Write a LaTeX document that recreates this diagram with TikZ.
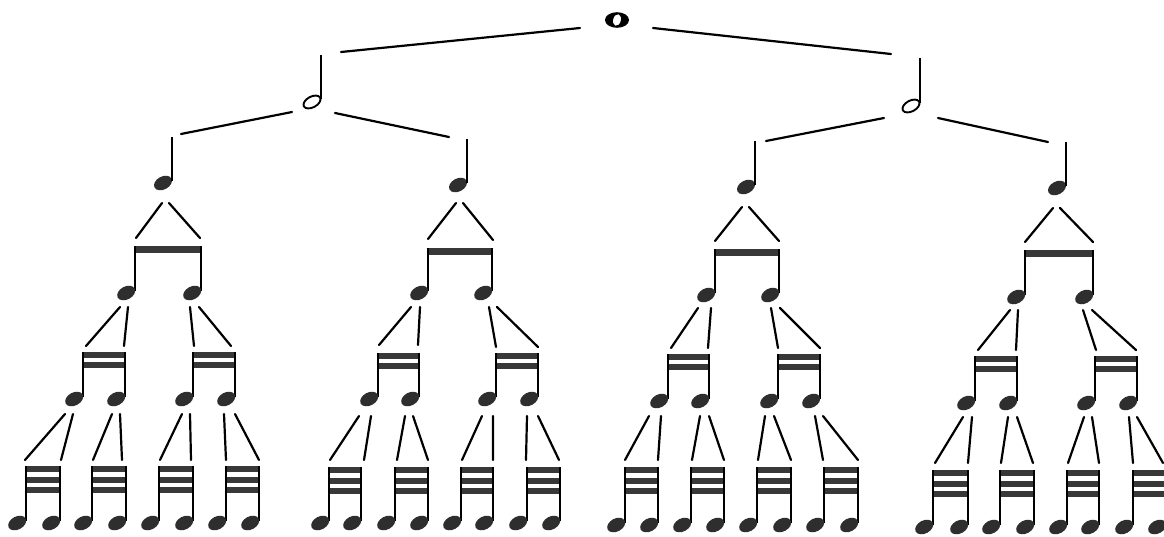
\documentclass[tikz,border=0pt]{standalone}
\begin{document}
\begin{tikzpicture}[x=1pt,y=-1pt,
  conn/.style={line width=2.2pt,line cap=round},
  stemline/.style={line width=1.6pt},
  headfill/.style={fill=black!82},
  beamfill/.style={fill=black!78}]
\useasboundingbox (0,0) rectangle (1164,536);
\fill[white] (0,0) rectangle (1164,536);
\clip (0,0) rectangle (1164,536);
% macros
\newcommand\nh[2]{\fill[headfill,rotate around={28:(#1,#2)}] (#1,#2) ellipse [x radius=9.6,y radius=6.5];}
\newcommand\qn[3]{\nh{#1}{#2}\draw[stemline] (#1+8.8,#2-2) -- (#1+8.8,#3);}
\newcommand\gA[4]{%
  \fill[beamfill] (#1-0.8,#3) rectangle (#2+0.8,#3+7);
  \draw[stemline] (#1,#3) -- (#1,#4-2) (#2,#3) -- (#2,#4-2);
  \nh{#1-8.8}{#4}\nh{#2-8.8}{#4}}
\newcommand\gB[4]{%
  \fill[beamfill] (#1-0.8,#3) rectangle (#2+0.8,#3+5.6);
  \fill[beamfill] (#1-0.8,#3+10) rectangle (#2+0.8,#3+15.6);
  \draw[stemline] (#1,#3) -- (#1,#4-2) (#2,#3) -- (#2,#4-2);
  \nh{#1-8.8}{#4}\nh{#2-8.8}{#4}}
\newcommand\gC[4]{%
  \fill[beamfill] (#1-0.8,#3) rectangle (#2+0.8,#3+6);
  \fill[beamfill] (#1-0.8,#3+10.5) rectangle (#2+0.8,#3+16.5);
  \fill[beamfill] (#1-0.8,#3+21) rectangle (#2+0.8,#3+27);
  \draw[stemline] (#1,#3) -- (#1,#4-2) (#2,#3) -- (#2,#4-2);
  \nh{#1-8.8}{#4}\nh{#2-8.8}{#4}}
% whole note
\fill (617,20) ellipse [x radius=12,y radius=7.8];
\fill[white,rotate around={-15:(617,20)}] (617,20) ellipse [x radius=3.8,y radius=5.8];
\draw[conn] (580,28) -- (341,52);
\draw[conn] (653,28) -- (891,54);
% half notes
\draw[line width=1.9pt,rotate around={28:(312,102)}] (312,102) ellipse [x radius=9.2,y radius=5.4];
\draw[stemline] (321,99) -- (321,55);
\draw[line width=1.9pt,rotate around={28:(911,106)}] (911,106) ellipse [x radius=9.2,y radius=5.4];
\draw[stemline] (920,103) -- (920,58);
\draw[conn] (292,112) -- (181,134);
\draw[conn] (335,113) -- (449,137);
\draw[conn] (884,118) -- (766,141);
\draw[conn] (938,118) -- (1048,142);
% quarter notes
\qn{163}{183}{137}
\qn{458}{185}{139}
\qn{746}{187}{141}
\qn{1057}{188}{142}
% V lines to eighth beams
\draw[conn] (162,203) -- (136,238) (169,203) -- (200,238);
\draw[conn] (456,203) -- (428,239) (463,203) -- (493,240);
\draw[conn] (742,207) -- (715,241) (749,207) -- (779,241);
\draw[conn] (1053,208) -- (1025,242) (1060,208) -- (1093,242);
% eighth groups
\gA{135}{201}{246}{293}
\gA{428}{492}{248}{293}
\gA{715}{779}{249}{295}
\gA{1025}{1093}{250}{297}
% eighth -> sixteenth lines
\draw[conn] (120,307) -- (86,346) (128,307) -- (124,346) (190,307) -- (194,346) (199,307) -- (231,346);
\draw[conn] (411,307) -- (379,345) (420,307) -- (418,345) (489,307) -- (496,347) (497,307) -- (538,347);
\draw[conn] (698,308) -- (671,348) (711,308) -- (708,348) (771,308) -- (778,348) (780,308) -- (820,348);
\draw[conn] (1010,310) -- (978,350) (1018,310) -- (1016,350) (1083,310) -- (1096,350) (1092,310) -- (1136,350);
% sixteenth groups
\gB{83}{125}{352}{399} \gB{193}{235}{352}{399}
\gB{378}{419}{353}{399} \gB{496}{538}{353}{399}
\gB{668}{709}{354}{401} \gB{778}{820}{354}{401}
\gB{975}{1017}{356}{403} \gB{1095}{1137}{356}{403}
% sixteenth -> thirty-second lines
\draw[conn] (65,414) -- (25,460) (73,414) -- (61,460) (112,414) -- (93,460) (120,414) -- (122,460)
            (182,414) -- (160,460) (190,414) -- (191,460) (224,414) -- (226,460) (235,414) -- (259,460);
\draw[conn] (359,416) -- (330,460) (371,416) -- (364,460) (405,416) -- (397,460) (413,416) -- (428,460)
            (482,416) -- (462,460) (493,416) -- (493,460) (527,416) -- (526,460) (538,416) -- (559,460);
\draw[conn] (649,416) -- (625,460) (661,416) -- (658,460) (700,416) -- (692,460) (709,416) -- (724,460)
            (765,416) -- (758,460) (774,416) -- (791,460) (815,416) -- (823,460) (823,416) -- (858,460);
\draw[conn] (963,417) -- (935,463) (972,417) -- (968,463) (1008,417) -- (1001,463) (1017,417) -- (1033,463)
            (1084,417) -- (1068,463) (1092,417) -- (1099,463) (1129,417) -- (1133,463) (1137,417) -- (1163,463);
% thirty-second groups
\gC{26}{60}{466}{523} \gC{92}{126}{466}{523} \gC{159}{193}{466}{523} \gC{226}{259}{466}{523}
\gC{329}{361}{467}{523} \gC{395}{428}{467}{523} \gC{461}{493}{467}{523} \gC{527}{560}{467}{523}
\gC{625}{658}{467}{525} \gC{691}{724}{467}{525} \gC{757}{791}{467}{525} \gC{824}{858}{467}{525}
\gC{933}{968}{470}{527} \gC{1000}{1034}{470}{527} \gC{1067}{1099}{470}{527} \gC{1133}{1166}{470}{527}
\end{tikzpicture}
\end{document}
